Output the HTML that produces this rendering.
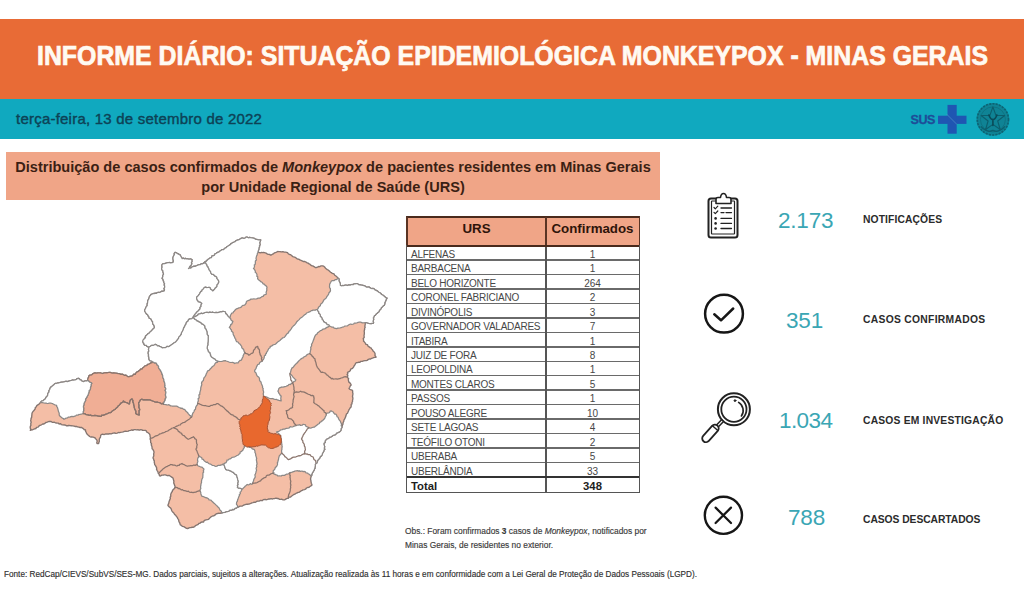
<!DOCTYPE html>
<html lang="pt-BR">
<head>
<meta charset="utf-8">
<title>Informe Diário Monkeypox - Minas Gerais</title>
<style>
*{margin:0;padding:0;box-sizing:border-box}
html,body{width:1024px;height:614px;overflow:hidden;background:#fff;font-family:"Liberation Sans",Arial,sans-serif}
.abs{position:absolute;white-space:nowrap}
#banner{position:absolute;left:0;top:19px;width:1024px;height:80px;background:#E86B36}
#banner h1{position:absolute;left:37px;top:24px;font-size:27px;line-height:27px;font-weight:bold;color:#fffaf2;letter-spacing:0;-webkit-text-stroke:0.7px #fffaf2;transform:scaleX(0.921);transform-origin:0 0}
#bar{position:absolute;left:0;top:99px;width:1024px;height:40px;background:#10A9BF}
#date{position:absolute;left:16px;top:12px;font-size:15px;line-height:16px;color:#0d4256;letter-spacing:0.22px;-webkit-text-stroke:0.4px #0d4256}
#titlebox{position:absolute;left:6px;top:152px;width:654px;height:48px;background:#F0A587;color:#3b1f14;font-weight:bold;font-size:14.55px;text-align:center}
#titlebox .l{position:absolute;left:0;width:100%;white-space:nowrap}
table{position:absolute;left:407px;top:217px;border-collapse:collapse;font-size:10px;color:#474747}

#tbl{position:absolute;left:0;top:0}
#tbl .th{position:absolute;top:217px;height:29px;background:#F0A587;color:#2e140a;font-weight:bold;font-size:13.3px;line-height:23px;text-align:center}
#tbl .hl{position:absolute;left:407px;width:232px;height:1.5px;background:#6a6a6a}
#tbl .td{position:absolute;height:14.46px;line-height:14.46px;padding-top:2.2px;font-size:10px;color:#474747;white-space:nowrap}
#tbl .n{left:411px;letter-spacing:-0.25px}
#tbl .v{left:546px;width:93px;text-align:center}
#tbl .b{font-weight:bold;color:#1e1e1e;font-size:11.3px;letter-spacing:0}
#tframe{position:absolute;left:406px;top:216px;width:234px;height:277px;border:1.5px solid #555;border-top:2px solid #4a2a1c}
#tdiv{position:absolute;left:545px;top:217px;width:1.6px;height:275px;background:#555}
#thb{position:absolute;left:407px;top:244.6px;width:232px;height:2px;background:#4a2a1c}
#ttb{position:absolute;left:407px;top:476px;width:232px;height:2px;background:#333}

.num{position:absolute;font-size:22.5px;line-height:22px;color:#3aa6b4;white-space:nowrap;letter-spacing:-0.2px}
.lab{position:absolute;font-size:10.3px;line-height:12px;font-weight:bold;color:#2b2b2b;white-space:nowrap}
#obs{position:absolute;left:405px;top:525px;font-size:8.4px;line-height:13.5px;color:#3a3a3a;white-space:nowrap;-webkit-text-stroke:0.15px #3a3a3a}
#foot{position:absolute;left:4px;top:570px;font-size:8.2px;line-height:10px;color:#303030;white-space:nowrap;letter-spacing:0;-webkit-text-stroke:0.15px #303030}
#icons{position:absolute;left:0;top:0}
</style>
</head>
<body>
<div id="banner"><h1 class="abs">INFORME DIÁRIO: SITUAÇÃO EPIDEMIOLÓGICA MONKEYPOX - MINAS GERAIS</h1></div>
<div id="bar"><div id="date" class="abs">terça-feira, 13 de setembro de 2022</div></div>

<svg id="logos" width="1024" height="140" viewBox="0 0 1024 140" style="position:absolute;left:0;top:0">
 <text x="910.6" y="124.3" font-family="Liberation Sans, Arial, sans-serif" font-weight="bold" font-size="12.6" fill="#1e4d98" letter-spacing="-0.5" stroke="#1e4d98" stroke-width="0.3">SUS</text>
 <rect x="938" y="115.7" width="28.5" height="8.2" fill="#1f56b2"/>
 <rect x="947.5" y="104.9" width="9.2" height="28.8" fill="#1f56b2"/>
 <path d="M946.5 114 L957 124.5" stroke="#4f8fc8" stroke-width="0.7"/>
 <g transform="translate(992.9 119.4)">
  <circle r="16.4" fill="#0f8395"/>
  <circle r="15.6" fill="none" stroke="#0d6272" stroke-width="1.6" stroke-dasharray="2 1.3"/>
  <circle r="12.5" fill="none" stroke="#0f7080" stroke-width="0.9"/>
  <path d="M0 -12.5 L3 -4 L11.8 -3.9 L4.8 1.6 L7.3 10.1 L0 5 L-7.3 10.1 L-4.8 1.6 L-11.8 -3.9 L-3 -4 Z" fill="none" stroke="#0c5e6d" stroke-width="1.1" stroke-linejoin="round"/>
  <path d="M-4 -4.5 q1.5 4.5 4 4.8 q2.5 -0.3 4 -4.8 M0 0 v6" fill="none" stroke="#0a4a58" stroke-width="1.6" stroke-linecap="round"/>
  <path d="M-12 7 q6 7 12 4 q6 3 12 -4" fill="none" stroke="#0c5e6d" stroke-width="1.3"/>
 </g>
</svg>
<div id="titlebox">
  <div class="l" style="top:7px">Distribuição de casos confirmados de <i>Monkeypox</i> de pacientes residentes em Minas Gerais</div>
  <div class="l" style="top:27px">por Unidade Regional de Saúde (URS)</div>
</div>
<!--MAP-->
<svg id="map" width="1024" height="614" viewBox="0 0 1024 614" style="position:absolute;left:0;top:0">
<g stroke="#8a746c" stroke-width="1.25" stroke-linejoin="round" stroke-linecap="round">
<polygon points="30.3,430.3 30.8,429.2 30.2,427.9 30.3,426.4 30.9,425.4 30.8,424.3 30.8,423.3 31.2,422.3 30.7,420.7 31.0,419.3 31.0,418.6 31.7,417.1 31.7,416.3 31.9,414.6 32.0,413.3 32.5,412.2 33.2,411.3 34.2,410.3 34.3,409.9 35.3,408.7 35.2,407.7 36.1,406.9 36.8,405.6 37.8,404.9 38.8,404.4 39.5,403.5 40.5,402.5 41.3,401.3 42.4,400.8 43.3,400.6 44.1,399.7 45.2,399.0 45.6,398.1 46.1,397.2 47.1,396.3 47.7,395.2 47.8,393.7 48.3,392.8 49.1,391.8 48.9,390.8 49.7,389.5 50.3,387.8 50.8,387.1 51.7,386.6 52.6,385.8 53.8,384.8 54.7,383.9 55.2,383.4 56.3,383.5 57.4,383.0 58.5,383.0 60.5,382.4 61.8,382.2 62.6,382.2 64.0,382.0 65.3,381.4 66.6,381.3 67.2,381.7 68.9,381.1 70.3,380.6 71.3,380.5 72.9,380.0 73.3,380.2 75.1,379.8 76.4,379.3 77.0,378.7 78.6,378.3 79.3,378.7 80.1,379.8 81.0,379.9 81.7,381.0 83.0,381.5 83.7,381.5 85.2,380.9 86.7,381.0 87.5,380.3 87.7,379.7 88.2,377.9 88.8,376.9 88.8,376.1 90.0,375.1 91.0,375.1 91.8,374.7 93.1,373.6 94.0,373.2 95.0,372.9 96.9,373.1 97.9,372.8 99.2,373.0 100.2,372.8 101.3,373.2 102.8,373.5 103.4,373.2 104.7,372.8 106.6,372.6 107.0,372.9 108.6,372.5 110.0,372.3 110.8,372.7 112.1,373.1 113.9,372.8 114.5,373.1 115.9,373.2 117.3,373.3 118.1,373.6 119.3,373.6 120.8,374.4 122.1,374.2 123.3,374.7 124.2,375.3 125.9,375.1 126.8,375.9 127.9,376.7 129.1,376.8 129.8,376.4 131.2,376.2 132.1,376.1 132.9,375.3 133.8,374.2 135.4,374.3 135.7,373.3 136.7,372.2 137.9,371.7 138.9,370.8 139.7,370.5 140.5,369.1 142.0,369.1 142.6,368.0 143.8,367.3 144.4,366.3 145.4,365.8 147.1,365.5 147.3,364.5 148.9,364.1 149.6,363.7 150.9,362.9 151.8,362.8 152.6,361.8 151.4,360.9 151.3,360.9 149.8,360.6 149.1,359.6 149.0,358.6 148.8,356.9 148.4,356.2 148.6,354.9 148.2,353.3 148.3,351.8 148.9,351.1 148.5,349.6 148.8,348.0 149.1,347.0 147.6,346.7 147.0,346.2 146.1,345.3 144.6,345.2 143.8,343.9 143.9,343.3 143.3,342.9 142.8,341.6 143.6,341.0 143.9,339.5 144.8,338.3 145.1,337.1 145.9,336.4 146.4,335.4 147.4,334.4 147.8,333.8 148.8,333.5 149.5,332.7 150.2,331.9 151.2,331.0 151.9,330.3 153.1,328.9 154.0,328.2 154.4,327.6 154.3,326.3 154.0,325.5 153.0,324.2 152.6,322.9 152.6,321.4 151.7,320.8 151.1,319.1 150.6,318.7 149.2,318.1 149.0,317.0 148.2,316.0 147.8,315.0 146.4,313.8 145.9,313.0 144.9,311.3 144.6,310.6 144.8,309.8 145.5,308.5 146.0,307.1 146.7,306.3 147.3,305.2 147.1,303.9 147.5,303.3 147.7,301.6 147.7,300.7 148.2,299.9 148.9,298.6 149.1,297.8 149.5,296.3 150.5,295.6 150.8,294.5 151.5,294.4 153.1,293.5 154.1,293.7 155.1,293.1 156.2,293.4 157.1,292.7 158.6,292.3 159.8,292.5 160.6,292.0 162.0,291.1 162.7,291.3 164.3,290.9 164.5,289.6 164.0,288.6 164.6,287.7 164.7,286.0 164.2,285.0 164.6,283.7 163.9,282.7 163.8,281.2 163.4,281.0 163.0,279.2 162.1,278.4 162.6,277.1 162.9,276.6 162.7,275.6 163.5,274.5 163.4,273.0 163.0,272.3 162.9,270.7 162.0,269.9 161.6,268.5 162.2,267.0 161.9,266.2 162.0,264.9 162.5,264.0 164.1,263.7 164.6,263.7 166.1,263.1 167.7,262.6 168.6,262.6 169.3,262.5 170.5,262.9 172.2,262.7 173.2,262.2 173.4,260.7 173.1,259.9 173.1,259.1 172.9,258.1 173.2,256.9 173.7,255.6 174.4,254.6 174.2,253.5 175.0,252.4 176.3,252.7 177.1,253.4 178.2,253.9 179.4,254.6 180.4,255.1 180.7,256.0 181.1,256.8 181.7,257.8 182.2,258.7 183.7,258.2 184.4,258.9 185.7,258.3 186.1,258.8 187.6,258.7 188.3,259.1 189.4,259.2 190.8,259.0 192.0,259.6 191.8,261.0 192.0,261.5 191.3,262.7 191.8,263.8 191.2,264.9 190.5,265.8 189.6,266.7 189.2,267.9 188.5,268.5 189.2,268.0 190.9,268.0 192.0,267.0 193.0,266.7 194.1,266.1 195.1,266.3 196.1,265.9 197.1,265.5 198.3,264.9 199.8,264.6 200.4,264.6 201.3,263.7 202.7,263.8 203.7,263.1 204.5,262.3 205.5,261.4 206.2,261.3 207.6,259.8 208.2,259.3 209.1,258.7 210.0,258.0 211.5,257.6 211.9,256.0 212.9,255.9 214.4,255.2 215.0,253.8 216.2,253.3 217.6,252.4 217.9,252.4 219.3,251.8 220.4,250.6 220.9,250.6 222.0,249.6 223.6,249.6 224.3,248.8 225.3,248.0 226.2,247.7 227.0,246.6 227.7,246.3 229.3,245.3 230.1,244.8 231.1,243.5 231.6,243.5 232.9,242.5 233.7,242.3 235.1,241.6 236.0,240.7 237.4,240.1 238.1,239.9 238.9,239.8 240.1,239.0 241.1,238.4 242.2,238.0 243.8,238.3 245.0,238.2 246.0,237.1 247.2,237.2 248.4,237.8 249.6,237.4 250.4,237.7 252.2,237.8 253.3,238.1 254.5,238.4 255.6,239.3 256.7,239.4 258.6,239.8 259.6,239.8 260.7,239.9 260.3,241.5 259.8,242.1 259.7,242.9 260.1,244.6 259.4,245.9 259.6,246.8 258.9,247.9 258.9,249.3 258.6,250.0 258.0,251.7 258.0,252.4 258.8,252.4 260.2,252.8 261.5,252.4 262.3,252.6 263.4,252.4 264.4,252.7 266.1,253.2 267.1,253.8 268.1,254.3 269.6,254.4 270.5,255.1 271.3,255.0 272.8,254.0 273.3,253.9 274.5,252.8 276.0,252.4 277.0,251.9 277.7,251.5 278.9,251.6 280.2,251.6 281.1,251.8 282.9,251.7 284.3,252.1 285.6,252.2 286.6,252.4 287.5,252.7 288.4,253.9 289.6,254.5 290.4,254.6 291.3,255.2 292.7,256.6 293.8,256.9 295.2,257.3 295.8,257.8 296.7,258.6 297.6,259.0 299.2,259.4 300.3,260.2 301.0,260.4 302.1,260.8 303.3,261.5 304.1,261.3 305.5,261.8 307.2,262.9 308.1,263.1 309.1,263.9 309.9,264.2 311.2,265.4 312.1,265.8 312.8,265.9 314.4,266.8 315.3,267.6 316.2,267.5 317.4,267.1 318.9,266.5 319.7,266.7 321.0,265.8 322.5,265.8 323.7,266.2 324.6,267.0 325.5,268.2 326.8,269.2 327.3,269.6 328.2,270.0 329.6,271.2 330.7,272.4 331.4,272.6 332.3,273.4 334.0,273.9 334.7,275.2 335.9,276.0 336.9,276.7 337.5,277.8 338.6,278.4 339.1,279.3 338.9,280.7 339.8,282.4 340.2,283.5 340.3,283.9 340.4,285.5 341.9,285.8 342.5,285.5 343.5,285.6 345.4,285.2 346.0,285.1 347.5,285.5 349.0,284.9 350.2,285.2 351.1,284.6 352.3,284.5 353.4,284.6 354.1,283.8 355.1,283.9 356.5,283.7 357.5,283.7 358.9,284.8 359.8,284.7 360.9,285.1 361.9,285.2 362.9,285.4 364.8,285.9 365.5,286.4 366.3,287.1 367.4,287.2 369.1,287.0 370.2,287.9 371.2,288.3 372.3,288.7 372.9,288.3 374.4,289.1 375.2,290.1 376.3,290.4 377.5,291.1 378.8,292.3 379.8,292.8 380.6,293.3 381.6,294.5 382.7,295.0 384.0,296.1 385.1,297.0 385.7,297.6 387.0,298.1 386.1,299.7 385.9,300.3 385.6,301.2 384.8,302.6 384.8,303.7 384.3,305.2 383.2,305.8 382.3,306.9 381.4,307.5 380.9,308.9 379.9,309.8 379.7,310.1 378.7,311.9 377.8,312.5 377.4,313.0 376.2,313.9 375.2,315.4 374.4,315.7 373.7,317.3 373.3,317.9 373.7,319.2 373.5,319.7 373.0,321.5 373.6,322.4 373.3,323.3 371.8,323.4 371.2,323.6 369.9,323.5 368.8,323.3 367.6,322.9 366.7,322.5 365.5,322.5 365.2,323.4 365.2,324.7 364.8,326.3 365.2,327.2 364.6,328.3 364.7,329.0 364.3,330.5 364.2,331.9 364.4,332.6 364.3,334.1 364.0,335.7 364.1,336.4 364.2,337.4 363.2,338.4 363.6,340.2 363.5,341.2 364.3,341.8 365.5,343.3 365.8,344.3 367.4,344.6 367.9,346.0 368.8,346.6 370.1,347.6 371.1,348.0 371.8,349.1 372.5,349.9 373.3,351.3 374.2,352.0 375.0,353.3 375.1,354.3 374.9,355.3 375.9,356.6 376.0,357.3 374.6,357.3 373.6,357.7 372.5,358.2 371.3,358.4 370.6,359.1 369.2,359.0 368.4,359.4 367.1,360.4 366.2,360.6 364.9,360.6 363.5,360.9 362.3,361.4 360.8,361.3 360.1,362.2 359.1,362.2 357.8,362.5 356.3,362.7 355.5,363.4 355.1,364.6 354.2,365.7 353.5,367.1 352.7,368.1 351.9,368.7 350.7,369.2 350.2,370.7 349.5,371.3 348.0,372.1 347.5,372.5 347.8,373.7 347.1,374.5 347.8,375.5 347.5,376.5 347.4,377.5 348.6,378.5 348.3,379.9 348.7,381.6 349.1,382.4 350.2,383.1 350.6,383.8 351.2,385.0 350.4,385.7 349.9,386.7 349.7,387.3 349.0,388.5 349.8,389.4 350.6,389.7 352.1,390.2 352.7,391.0 352.6,392.3 352.9,393.4 352.9,394.2 352.6,396.0 352.5,396.5 352.9,398.2 352.8,399.3 352.5,400.4 352.6,401.3 351.9,402.8 352.0,403.9 351.2,404.3 351.2,405.8 351.1,407.0 350.1,407.9 349.4,409.1 348.9,409.9 348.6,410.8 347.9,412.3 347.5,413.2 346.4,414.1 346.1,415.3 345.7,416.6 345.2,417.7 344.7,418.9 343.9,420.1 343.8,421.3 343.1,422.6 343.0,423.5 343.0,424.1 342.5,425.0 342.0,426.5 342.0,427.3 341.0,428.9 341.0,430.1 340.4,431.1 339.5,431.9 337.9,432.6 337.1,432.8 336.3,433.5 335.5,434.6 334.1,435.0 332.7,435.6 331.9,436.4 330.8,437.0 329.5,437.2 328.9,438.0 327.8,438.7 326.5,439.0 325.6,440.3 325.0,441.1 325.2,442.5 324.2,443.1 323.8,444.1 324.1,444.9 324.5,446.1 324.7,446.8 324.2,448.2 324.9,449.3 324.0,450.0 323.8,451.3 323.2,452.4 322.5,453.1 322.3,454.5 321.6,455.8 320.6,456.4 320.0,457.1 320.0,457.8 319.3,458.5 318.4,459.7 317.4,460.5 317.5,461.3 316.8,462.9 315.8,463.6 315.2,464.5 315.4,466.1 314.9,467.2 315.1,468.1 314.5,468.8 314.4,469.7 313.8,470.6 312.8,472.3 312.2,473.4 311.9,474.1 311.9,475.3 311.2,476.2 310.9,477.4 310.5,479.0 310.9,480.5 311.0,481.5 311.2,482.6 311.3,483.2 311.9,484.5 311.7,485.5 311.1,485.7 309.6,486.7 309.0,487.3 307.6,487.5 306.5,488.0 305.5,489.2 304.5,489.6 303.0,489.9 302.3,490.3 301.0,490.9 300.4,491.4 299.2,492.3 298.1,492.4 296.8,493.1 296.2,493.2 294.9,494.2 293.8,494.5 292.8,495.2 291.4,496.2 290.6,497.0 289.1,497.1 288.4,498.1 287.3,498.4 286.6,498.6 285.3,499.4 284.6,499.8 283.1,499.9 281.6,499.2 280.5,499.4 279.7,499.4 277.9,498.4 277.3,498.5 275.9,498.1 274.4,498.6 273.4,498.7 272.7,499.0 271.1,498.7 269.8,499.0 268.7,499.0 267.7,499.3 265.9,499.8 265.1,499.3 263.2,499.7 262.5,500.6 260.8,500.4 259.8,500.7 259.0,501.2 257.4,501.1 256.3,501.7 255.2,502.4 254.2,502.1 253.0,502.6 251.9,502.8 250.8,503.4 249.4,504.0 248.2,504.2 246.8,504.2 245.9,504.3 244.4,504.8 243.7,505.2 242.3,506.0 242.0,506.2 240.0,506.1 239.0,506.8 238.3,507.0 237.3,507.3 236.1,508.2 235.3,508.2 234.7,508.8 233.9,509.6 232.6,509.3 231.8,510.1 230.1,510.1 229.3,510.6 228.5,511.4 226.4,511.6 225.9,511.7 224.8,512.4 222.8,512.5 222.0,513.0 221.1,513.0 220.0,513.4 218.7,513.2 218.0,513.5 216.5,513.7 216.0,514.1 215.2,514.9 213.7,515.8 212.6,516.0 211.5,516.5 210.3,517.6 209.5,518.3 208.6,519.3 207.3,519.6 206.0,519.9 205.2,520.2 204.1,520.7 203.6,522.0 202.2,521.9 200.7,522.5 200.1,523.2 198.7,523.5 198.3,524.3 196.5,525.2 195.4,525.6 194.7,526.7 193.5,527.2 192.8,527.2 191.1,527.5 189.7,527.7 189.0,528.0 187.6,528.5 186.4,528.3 185.4,527.7 184.6,527.1 183.8,526.7 182.3,526.3 181.4,525.4 180.4,524.9 179.8,523.4 180.0,523.1 179.0,521.9 178.7,520.3 178.6,519.6 177.7,518.6 177.4,517.4 176.7,516.8 175.6,515.2 174.6,514.4 173.8,513.0 173.2,512.4 172.4,511.8 171.8,510.7 171.3,509.2 170.5,507.9 169.6,507.3 168.3,506.0 167.9,505.2 168.5,503.7 168.8,503.3 168.9,502.4 169.2,501.2 169.7,499.9 170.4,498.4 170.1,497.3 170.9,495.9 170.6,495.1 170.8,494.3 171.4,492.7 172.3,491.5 172.5,490.5 173.5,489.3 174.7,488.4 175.0,487.3 175.1,486.5 174.5,485.1 174.1,483.7 173.7,483.1 173.9,481.5 173.7,480.5 173.3,479.3 173.2,478.4 172.8,477.9 171.7,477.1 170.4,476.2 169.7,475.7 169.0,475.4 167.5,475.7 166.7,475.3 165.4,474.8 164.3,474.8 163.2,475.2 161.9,475.1 161.0,475.6 160.0,476.0 159.2,475.0 159.2,474.2 158.2,473.2 157.9,471.7 157.1,470.6 156.7,469.5 156.5,469.3 156.7,468.1 156.3,467.1 155.5,465.6 154.7,464.6 154.5,463.1 154.2,462.0 154.4,460.9 153.6,459.8 153.7,459.2 153.0,458.0 153.3,456.8 153.8,456.0 153.7,454.5 153.7,453.5 154.0,452.8 153.9,451.5 153.4,450.4 152.7,449.2 152.1,448.7 152.0,446.8 151.7,446.0 151.2,444.7 151.6,443.9 150.7,442.6 150.6,440.8 150.6,440.0 150.1,439.1 150.4,437.4 150.1,436.5 150.0,435.1 149.5,434.0 148.4,433.1 147.5,432.3 146.7,432.1 146.1,430.6 145.2,430.3 143.8,430.4 142.7,430.4 141.9,429.9 140.8,429.6 139.1,430.2 137.9,429.6 136.4,429.9 135.2,429.7 134.1,429.6 132.8,430.3 131.9,429.8 130.6,430.3 128.9,430.7 128.5,431.2 126.7,431.3 125.7,431.2 124.4,431.3 123.3,431.8 121.9,432.1 120.5,432.3 119.7,432.7 118.4,432.5 117.2,433.1 115.9,433.3 114.7,433.0 113.3,433.1 112.3,433.4 111.3,433.8 109.9,433.6 108.6,434.0 106.9,433.9 105.8,434.0 105.2,434.2 104.0,434.6 102.7,434.2 101.3,434.7 100.7,435.2 100.5,436.9 100.4,437.3 99.5,438.5 99.2,440.0 99.4,441.2 99.0,442.0 98.6,443.5 97.6,443.6 97.2,443.5 96.7,442.9 97.1,441.8 97.1,440.6 96.5,439.5 95.5,438.8 95.2,437.9 94.0,437.5 93.3,437.2 91.6,436.8 91.0,437.1 89.6,436.5 88.9,435.7 87.7,434.8 87.0,434.0 86.3,432.9 86.0,431.9 85.6,431.4 85.5,430.0 84.1,429.5 83.6,428.8 82.6,428.2 81.5,427.4 80.0,427.5 78.9,427.2 77.4,426.9 76.8,426.4 75.3,426.5 74.2,426.2 72.7,425.9 71.1,425.7 70.6,425.7 68.9,425.3 68.3,425.7 66.3,425.7 65.4,425.2 64.5,425.0 62.5,424.9 61.3,424.7 60.7,423.6 59.1,424.0 58.1,423.1 56.6,423.0 55.3,422.8 54.4,422.2 52.6,422.3 52.1,422.1 50.8,421.4 49.3,421.5 48.3,421.7 47.3,422.1 45.8,422.5 45.2,423.1 43.9,424.0 43.1,423.8 42.0,424.5 40.8,425.2 39.5,425.5 38.8,426.3 38.1,427.1 36.5,427.3 36.0,428.5 34.7,428.9 34.1,429.0 32.4,429.8 31.7,429.9" fill="#F4BEA6" stroke="#857570" stroke-width="1.35"/>
<polygon points="88.8,376.1 90.0,375.1 91.0,375.1 91.8,374.7 93.1,373.6 94.0,373.2 95.0,372.9 96.9,373.1 97.9,372.8 99.2,373.0 100.2,372.8 101.3,373.2 102.8,373.5 103.4,373.2 104.7,372.8 106.6,372.6 107.0,372.9 108.6,372.5 110.0,372.3 110.8,372.7 112.1,373.1 113.9,372.8 114.5,373.1 115.9,373.2 117.3,373.3 118.1,373.6 119.3,373.6 120.8,374.4 122.1,374.2 123.3,374.7 124.2,375.3 125.9,375.1 126.8,375.9 127.9,376.7 129.1,376.8 129.8,376.4 131.2,376.2 132.1,376.1 132.9,375.3 133.8,374.2 135.4,374.3 135.7,373.3 136.7,372.2 137.9,371.7 138.9,370.8 139.7,370.5 140.5,369.1 142.0,369.1 142.6,368.0 143.8,367.3 144.4,366.3 145.4,365.8 147.1,365.5 147.3,364.5 148.9,364.1 149.6,363.7 150.9,362.9 151.8,362.8 152.6,361.8 153.7,362.4 154.7,363.0 155.7,362.8 156.5,363.5 157.0,364.8 158.0,365.5 158.6,366.5 158.5,367.9 159.1,368.6 160.3,370.1 160.9,371.3 161.4,372.0 161.8,373.6 162.4,374.8 162.7,375.8 162.7,376.6 163.0,377.7 163.8,379.5 163.8,380.4 164.2,381.6 164.8,383.2 164.8,384.0 165.1,385.5 164.7,386.8 165.4,387.6 165.9,389.0 165.1,390.3 165.8,391.7 165.9,392.9 165.5,394.1 165.5,395.5 166.1,397.1 165.9,398.0 165.1,399.1 165.3,399.9 164.8,400.8 164.1,402.1 163.6,403.1 163.5,404.1 162.4,403.4 161.4,403.8 160.8,403.4 159.9,402.7 158.4,402.5 157.5,402.2 156.4,402.2 154.6,401.8 154.1,401.5 152.6,401.0 151.1,400.5 150.5,400.0 149.4,399.8 147.7,399.9 146.7,399.6 145.3,399.8 144.7,399.7 142.9,399.9 142.1,399.2 140.8,399.6 140.0,400.5 139.5,401.9 138.6,402.5 138.6,403.4 138.9,405.1 139.0,405.6 138.8,407.4 139.4,408.4 139.8,409.8 139.0,410.6 139.1,412.0 139.0,413.7 139.4,414.9 138.1,414.8 137.2,414.4 136.4,414.2 135.7,413.2 135.9,411.6 135.6,410.4 135.0,409.8 134.6,408.6 134.2,407.3 134.1,406.0 133.9,405.5 133.5,404.0 133.5,403.1 132.8,401.9 132.9,400.5 132.1,399.5 132.1,398.8 131.0,399.6 130.6,399.6 130.0,401.0 129.6,401.9 129.7,403.2 129.1,404.0 128.6,403.5 127.2,402.9 126.2,402.5 125.5,402.4 124.1,401.6 123.3,401.0 123.0,402.1 121.7,402.8 121.1,402.9 120.3,404.0 119.2,405.2 118.1,406.0 117.6,407.0 116.7,407.7 115.9,408.4 115.1,409.4 114.3,409.6 113.3,410.5 112.2,411.0 111.5,412.0 110.5,412.6 109.2,412.7 107.7,413.5 106.7,414.0 105.7,414.2 104.9,414.7 102.9,415.3 101.8,415.2 101.1,416.3 99.8,416.4 98.9,416.0 97.8,416.0 96.7,415.6 94.8,415.4 94.0,415.7 92.4,415.7 91.5,415.6 90.5,415.0 89.4,415.3 88.1,414.9 86.5,414.6 85.5,414.3 84.8,413.5 83.3,413.5 83.1,411.9 83.7,410.8 83.6,410.2 83.7,408.3 83.5,407.5 83.4,406.2 83.9,405.0 84.0,403.6 84.6,402.3 85.0,401.5 85.7,400.3 85.5,399.2 86.4,397.9 87.0,396.9 87.3,396.2 88.0,395.0 88.3,394.0 88.7,393.2 89.1,391.2 89.2,390.4 90.4,389.5 90.5,388.0 90.5,387.2 91.0,385.9 91.1,384.3 91.8,383.4 91.2,382.6 90.2,382.5 89.4,381.8 88.0,380.5 87.5,380.3 87.7,379.7 88.2,377.9 88.8,376.9" fill="#F0AE95"/>
<polygon points="40.5,402.5 41.3,401.3 42.4,400.8 43.3,400.6 44.1,399.7 45.2,399.0 45.6,398.1 46.1,397.2 47.1,396.3 47.7,395.2 47.8,393.7 48.3,392.8 49.1,391.8 48.9,390.8 49.7,389.5 50.3,387.8 50.8,387.1 51.7,386.6 52.6,385.8 53.8,384.8 54.7,383.9 55.2,383.4 56.3,383.5 57.4,383.0 58.5,383.0 60.5,382.4 61.8,382.2 62.6,382.2 64.0,382.0 65.3,381.4 66.6,381.3 67.2,381.7 68.9,381.1 70.3,380.6 71.3,380.5 72.9,380.0 73.3,380.2 75.1,379.8 76.4,379.3 77.0,378.7 78.6,378.3 79.3,378.7 80.1,379.8 81.0,379.9 81.7,381.0 83.0,381.5 83.7,381.5 85.2,380.9 86.7,381.0 87.5,380.3 88.0,380.5 89.4,381.8 90.2,382.5 91.2,382.6 91.8,383.4 91.1,384.3 91.0,385.9 90.5,387.2 90.5,388.0 90.4,389.5 89.2,390.4 89.1,391.2 88.7,393.2 88.3,394.0 88.0,395.0 87.3,396.2 87.0,396.9 86.4,397.9 85.5,399.2 85.7,400.3 85.0,401.5 84.6,402.3 84.0,403.6 83.9,405.0 83.4,406.2 83.5,407.5 83.7,408.3 83.6,410.2 83.7,410.8 83.1,411.9 83.3,413.5 82.2,413.9 81.1,414.1 79.8,414.5 78.9,414.4 77.9,415.2 76.6,415.1 75.7,415.7 74.9,416.2 73.3,416.6 71.9,416.4 70.8,416.6 69.9,417.2 68.4,417.1 67.4,417.9 66.0,418.1 64.8,418.9 64.0,419.3 63.3,418.5 62.2,418.1 61.7,417.6 60.7,416.7 59.6,415.7 59.2,414.9 59.2,413.2 58.9,412.4 58.4,411.3 58.1,409.8 57.8,409.1 57.4,407.2 56.7,406.6 56.6,405.4 55.5,405.0 54.7,404.8 52.7,403.7 52.2,403.5 50.8,403.2 49.9,403.0 48.2,403.4 47.1,403.5 46.0,403.0 44.9,403.2 44.2,403.0 42.3,402.7 41.4,402.7" fill="#ffffff" stroke="#8c8886"/>
<polygon points="143.7,339.3 144.8,338.5 145.5,337.3 145.5,335.9 146.4,335.4 147.4,334.4 147.8,333.8 148.8,333.5 149.5,332.7 150.2,331.9 151.2,331.0 151.9,330.3 153.1,328.9 154.0,328.2 154.4,327.6 154.3,326.3 154.0,325.5 153.0,324.2 152.6,322.9 152.6,321.4 151.7,320.8 151.1,319.1 150.6,318.7 149.2,318.1 149.0,317.0 148.2,316.0 147.8,315.0 146.4,313.8 145.9,313.0 144.9,311.3 144.6,310.6 144.8,309.8 145.5,308.5 146.0,307.1 146.7,306.3 147.3,305.2 147.1,303.9 147.5,303.3 147.7,301.6 147.7,300.7 148.2,299.9 148.9,298.6 149.1,297.8 149.5,296.3 150.5,295.6 150.8,294.5 151.5,294.4 153.1,293.5 154.1,293.7 155.1,293.1 156.2,293.4 157.1,292.7 158.6,292.3 159.8,292.5 160.6,292.0 162.0,291.1 162.7,291.3 164.3,290.9 164.5,289.6 164.0,288.6 164.6,287.7 164.7,286.0 164.2,285.0 164.6,283.7 163.9,282.7 163.8,281.2 163.4,281.0 163.0,279.2 162.1,278.4 162.6,277.1 162.9,276.6 162.7,275.6 163.5,274.5 163.4,273.0 163.0,272.3 162.9,270.7 162.0,269.9 161.6,268.5 162.2,267.0 161.9,266.2 162.0,264.9 162.5,264.0 164.1,263.7 164.6,263.7 166.1,263.1 167.7,262.6 168.6,262.6 169.3,262.5 170.5,262.9 172.2,262.7 173.2,262.2 173.4,260.7 173.1,259.9 173.1,259.1 172.9,258.1 173.2,256.9 173.7,255.6 174.4,254.6 174.2,253.5 175.0,252.4 176.3,252.7 177.1,253.4 178.2,253.9 179.4,254.6 180.4,255.1 180.7,256.0 181.1,256.8 181.7,257.8 182.2,258.7 183.7,258.2 184.4,258.9 185.7,258.3 186.1,258.8 187.6,258.7 188.3,259.1 189.4,259.2 190.8,259.0 192.0,259.6 191.8,261.0 192.0,261.5 191.3,262.7 191.8,263.8 191.2,264.9 190.5,265.8 189.6,266.7 189.2,267.9 188.5,268.5 189.2,268.0 190.9,268.0 192.0,267.0 193.0,266.7 194.1,266.1 195.1,266.3 196.1,265.9 197.1,265.5 198.3,264.9 199.8,264.6 200.4,264.6 201.3,263.7 202.7,263.8 203.7,263.1 204.9,262.4 205.5,262.5 205.9,263.3 206.9,264.8 207.1,265.9 207.9,266.5 208.2,267.6 208.8,268.5 209.2,269.9 210.2,271.1 210.6,271.6 210.9,273.0 211.7,274.2 213.1,274.3 214.2,275.2 214.7,275.9 216.2,276.6 216.9,277.4 216.9,278.4 217.9,279.6 218.5,280.5 218.9,282.0 218.4,282.9 218.1,283.9 217.0,284.9 217.1,286.2 216.2,287.3 215.1,288.3 214.8,288.9 213.5,290.4 212.6,290.9 211.7,289.8 210.5,289.1 210.1,287.8 209.1,287.3 207.6,287.5 206.9,287.6 205.5,287.2 204.6,287.3 203.6,288.4 203.4,288.9 201.9,290.3 201.8,291.1 201.0,291.4 200.1,292.7 199.6,293.8 198.8,294.8 197.8,296.1 196.8,297.0 196.5,298.1 196.7,298.6 197.2,300.0 198.0,300.9 198.3,301.7 199.2,301.8 200.4,302.2 201.1,302.8 201.9,303.5 201.2,304.5 201.0,305.4 201.1,306.4 200.0,307.5 200.1,308.8 199.0,310.0 198.4,310.7 197.2,311.7 196.5,312.4 195.7,313.8 195.0,314.2 194.1,315.6 193.4,316.3 193.0,317.8 191.9,318.6 190.9,318.8 189.8,318.9 188.5,319.6 188.1,321.0 187.0,321.8 186.3,322.7 186.0,324.0 185.3,324.9 184.8,326.0 184.3,327.2 183.6,328.2 183.5,328.6 183.1,330.0 182.7,330.7 182.0,332.0 181.4,333.0 181.4,334.1 180.4,335.4 179.9,336.1 178.6,337.4 178.6,338.3 177.7,339.4 176.8,340.7 175.7,341.9 174.8,342.5 174.2,342.8 172.6,343.9 172.1,344.3 170.5,345.4 169.7,346.1 168.1,346.8 167.2,346.3 166.0,347.3 165.1,347.6 163.4,347.7 162.5,347.9 161.1,347.0 160.4,346.6 159.6,346.5 158.7,345.6 157.4,345.8 156.4,344.6 155.3,344.3 154.1,345.0 153.1,345.4 151.8,345.3 150.9,345.8 150.5,346.3 149.1,347.0 147.6,346.7 147.0,346.2 146.1,345.3 144.6,345.2 143.8,343.9 143.9,343.3 143.3,342.9 142.8,341.6 142.9,340.1" fill="#ffffff" stroke="#8c8886"/>
<polygon points="203.7,263.1 204.5,262.3 205.5,261.4 206.2,261.3 207.6,259.8 208.2,259.3 209.1,258.7 210.0,258.0 211.5,257.6 211.9,256.0 212.9,255.9 214.4,255.2 215.0,253.8 216.2,253.3 217.6,252.4 217.9,252.4 219.3,251.8 220.4,250.6 220.9,250.6 222.0,249.6 223.6,249.6 224.3,248.8 225.3,248.0 226.2,247.7 227.0,246.6 227.7,246.3 229.3,245.3 230.1,244.8 231.1,243.5 231.6,243.5 232.9,242.5 233.7,242.3 235.1,241.6 236.0,240.7 237.4,240.1 238.1,239.9 238.9,239.8 240.1,239.0 241.1,238.4 242.2,238.0 243.8,238.3 245.0,238.2 246.0,237.1 247.2,237.2 248.4,237.8 249.6,237.4 250.4,237.7 252.2,237.8 253.3,238.1 254.5,238.4 255.6,239.3 256.7,239.4 258.6,239.8 259.6,239.8 260.7,239.9 260.3,241.5 259.8,242.1 259.7,242.9 260.1,244.6 259.4,245.9 259.6,246.8 258.9,247.9 258.9,249.3 258.6,250.0 258.0,251.7 258.0,252.4 257.2,254.0 257.3,254.9 256.7,255.7 256.3,257.2 256.0,258.4 256.4,260.0 255.4,261.0 255.3,262.2 255.4,262.9 255.1,264.7 254.3,264.9 254.5,266.3 254.1,267.9 253.5,268.5 254.4,269.4 254.7,269.9 255.4,271.2 255.2,272.3 256.2,273.0 256.9,274.3 257.0,274.9 256.9,276.4 257.8,276.8 257.6,278.6 258.0,279.3 258.8,280.0 259.8,280.6 260.6,281.7 261.5,281.9 262.5,282.8 263.2,283.9 264.7,284.4 265.0,285.3 266.4,286.1 267.0,287.3 266.7,288.8 266.9,290.0 266.5,291.1 266.1,292.5 266.3,293.6 266.0,294.5 264.8,294.7 263.5,295.4 263.2,296.5 261.9,296.6 261.1,297.3 259.8,298.1 258.2,298.1 257.1,298.6 256.3,298.8 255.4,299.0 253.8,298.9 252.6,299.0 251.7,299.0 250.9,299.1 249.6,300.2 247.9,300.7 247.2,300.8 246.2,302.2 246.2,303.1 245.6,304.0 244.6,305.2 243.1,305.3 242.0,306.0 241.2,307.2 240.0,307.6 238.6,307.9 237.9,308.4 236.5,308.8 235.4,309.7 234.4,311.0 233.5,311.7 233.1,312.8 231.8,313.0 231.1,314.2 230.4,315.5 230.4,316.3 230.0,317.3 229.3,317.8 229.0,317.1 227.6,315.8 227.3,315.1 226.6,314.1 225.7,313.6 225.4,312.0 224.3,311.5 222.9,311.3 222.1,311.8 220.8,311.6 219.5,312.2 218.9,312.3 217.2,312.7 216.2,312.4 214.9,312.7 213.2,312.4 212.5,312.1 211.5,312.5 209.9,312.2 208.6,312.7 207.3,312.4 206.3,312.4 205.1,312.5 204.0,313.1 202.4,313.7 201.5,313.2 200.5,313.6 199.5,314.0 198.3,314.2 197.6,315.3 196.5,315.9 195.0,316.6 194.1,316.8 193.0,317.8 193.4,316.3 194.1,315.6 195.0,314.2 195.7,313.8 196.5,312.4 197.2,311.7 198.4,310.7 199.0,310.0 200.1,308.8 200.0,307.5 201.1,306.4 201.0,305.4 201.2,304.5 201.9,303.5 201.1,302.8 200.4,302.2 199.2,301.8 198.3,301.7 198.0,300.9 197.2,300.0 196.7,298.6 196.5,298.1 196.8,297.0 197.8,296.1 198.8,294.8 199.6,293.8 200.1,292.7 201.0,291.4 201.8,291.1 201.9,290.3 203.4,288.9 203.6,288.4 204.6,287.3 205.5,287.2 206.9,287.6 207.6,287.5 209.1,287.3 210.1,287.8 210.5,289.1 211.7,289.8 212.6,290.9 213.5,290.4 214.8,288.9 215.1,288.3 216.2,287.3 217.1,286.2 217.0,284.9 218.1,283.9 218.4,282.9 218.9,282.0 218.5,280.5 217.9,279.6 216.9,278.4 216.9,277.4 216.2,276.6 214.7,275.9 214.2,275.2 213.1,274.3 211.7,274.2 210.9,273.0 210.6,271.6 210.2,271.1 209.2,269.9 208.8,268.5 208.2,267.6 207.9,266.5 207.1,265.9 206.9,264.8 205.9,263.3 205.5,262.5 204.9,262.4" fill="#ffffff" stroke="#8c8886"/>
<polygon points="193.0,317.8 194.1,316.8 195.0,316.6 196.5,315.9 197.6,315.3 198.3,314.2 199.5,314.0 200.5,313.6 201.5,313.2 202.4,313.7 204.0,313.1 205.1,312.5 206.3,312.4 207.3,312.4 208.6,312.7 209.9,312.2 211.5,312.5 212.5,312.1 213.2,312.4 214.9,312.7 216.2,312.4 217.2,312.7 218.9,312.3 219.5,312.2 220.8,311.6 222.1,311.8 222.9,311.3 224.3,311.5 225.4,312.0 225.7,313.6 226.6,314.1 227.3,315.1 227.6,315.8 229.0,317.1 229.3,317.8 230.6,318.4 230.9,319.8 232.0,320.9 232.9,321.4 232.3,322.7 231.9,323.9 230.7,324.6 230.7,325.4 229.7,326.9 229.3,327.6 230.3,328.3 230.6,329.1 231.5,330.0 231.4,331.0 232.5,332.0 233.1,332.7 233.1,334.0 233.7,335.4 234.1,336.1 234.5,337.0 235.0,338.3 235.6,339.0 236.0,340.5 236.6,341.6 238.0,342.0 238.6,342.9 239.0,343.5 240.1,344.2 240.9,345.4 241.7,346.4 241.8,347.7 242.5,348.7 243.5,349.1 244.0,350.7 243.9,351.0 244.8,352.3 244.1,353.7 243.6,354.8 243.0,356.1 243.2,356.5 242.2,358.1 241.9,359.1 241.2,360.3 240.2,360.3 239.1,361.4 238.5,362.0 238.0,363.0 236.5,362.8 235.6,363.0 234.7,363.5 233.8,362.8 232.7,362.4 230.9,362.5 230.2,362.4 229.0,362.0 227.7,361.5 226.2,361.0 225.3,360.6 223.4,360.8 222.8,361.1 221.7,361.3 220.1,361.5 218.7,361.3 217.8,361.2 216.4,360.9 215.5,360.0 215.0,359.2 213.3,358.4 212.5,357.7 211.4,356.9 210.5,355.7 210.5,354.4 210.0,353.9 209.7,352.3 208.4,352.0 208.2,351.0 207.7,349.6 207.2,348.5 207.2,347.5 207.4,346.3 207.9,344.6 207.8,343.3 207.9,342.8 208.1,341.5 208.2,339.6 208.2,338.6 208.2,337.5 208.3,336.0 207.9,335.5 207.1,334.1 207.0,332.5 207.0,331.9 206.4,330.3 205.8,329.0 204.9,328.1 204.8,327.1 204.6,325.7 203.7,325.0 203.0,324.4 201.5,323.9 200.7,322.6 199.4,322.1 198.3,321.4 196.9,320.9 196.6,320.3 195.0,319.5 194.1,318.5" fill="#ffffff" stroke="#8c8886"/>
<polygon points="149.1,347.0 150.5,346.3 150.9,345.8 151.8,345.3 153.1,345.4 154.1,345.0 155.3,344.3 156.4,344.6 157.4,345.8 158.7,345.6 159.6,346.5 160.4,346.6 161.1,347.0 162.5,347.9 163.4,347.7 165.1,347.6 166.0,347.3 167.2,346.3 168.1,346.8 169.7,346.1 170.5,345.4 172.1,344.3 172.6,343.9 174.2,342.8 174.8,342.5 175.7,341.9 176.8,340.7 177.7,339.4 178.6,338.3 178.6,337.4 179.9,336.1 180.4,335.4 181.4,334.1 181.4,333.0 182.0,332.0 182.7,330.7 183.1,330.0 183.5,328.6 183.6,328.2 184.3,327.2 184.8,326.0 185.3,324.9 186.0,324.0 186.3,322.7 187.0,321.8 188.1,321.0 188.5,319.6 189.8,318.9 190.9,318.8 191.9,318.6 193.0,317.8 194.1,318.5 195.0,319.5 196.6,320.3 196.9,320.9 198.3,321.4 199.4,322.1 200.7,322.6 201.5,323.9 203.0,324.4 203.7,325.0 204.6,325.7 204.8,327.1 204.9,328.1 205.8,329.0 206.4,330.3 207.0,331.9 207.0,332.5 207.1,334.1 207.9,335.5 208.3,336.0 208.2,337.5 208.2,338.6 208.2,339.6 208.1,341.5 207.9,342.8 207.8,343.3 207.9,344.6 207.4,346.3 207.2,347.5 207.2,348.5 207.7,349.6 208.2,351.0 208.4,352.0 209.7,352.3 210.0,353.9 210.5,354.4 210.5,355.7 211.4,356.9 212.5,357.7 213.3,358.4 215.0,359.2 215.5,360.0 216.4,360.9 217.8,361.2 217.3,362.5 215.9,362.6 215.0,363.7 214.6,364.6 213.7,365.8 212.9,366.2 212.0,367.0 210.7,368.6 210.2,369.0 209.1,370.4 207.7,370.8 207.2,371.8 207.0,372.6 206.4,373.5 206.0,374.9 205.3,376.3 204.2,377.5 204.0,377.9 203.7,378.7 203.4,380.5 202.1,381.5 201.9,382.3 201.5,383.3 201.8,384.7 201.4,385.8 200.9,387.3 200.7,388.2 200.8,389.2 200.4,390.6 200.1,391.6 199.8,392.9 199.8,394.5 198.9,394.9 199.1,396.6 199.2,397.7 198.1,398.8 198.3,399.6 198.3,401.1 197.8,402.0 197.6,403.5 197.3,405.0 196.5,405.7 195.9,406.9 195.6,407.8 195.5,409.2 194.5,410.0 194.0,411.5 193.7,412.0 192.8,413.2 192.2,415.0 192.2,415.9 191.5,417.1 190.8,415.9 189.7,415.4 189.1,414.6 188.0,413.4 187.5,412.4 186.9,411.9 185.7,411.1 185.6,410.4 184.3,409.3 183.5,409.3 181.9,408.1 180.6,408.3 180.3,407.8 179.1,407.5 177.8,406.7 176.5,406.2 176.0,406.0 174.9,406.0 173.5,406.0 172.1,406.0 170.7,405.9 170.0,405.4 168.9,404.7 167.6,405.0 166.7,404.8 166.0,404.7 164.2,404.5 163.5,404.1 163.6,403.1 164.1,402.1 164.8,400.8 165.3,399.9 165.1,399.1 165.9,398.0 166.1,397.1 165.5,395.5 165.5,394.1 165.9,392.9 165.8,391.7 165.1,390.3 165.9,389.0 165.4,387.6 164.7,386.8 165.1,385.5 164.8,384.0 164.8,383.2 164.2,381.6 163.8,380.4 163.8,379.5 163.0,377.7 162.7,376.6 162.7,375.8 162.4,374.8 161.8,373.6 161.4,372.0 160.9,371.3 160.3,370.1 159.1,368.6 158.5,367.9 158.6,366.5 158.0,365.5 157.0,364.8 156.5,363.5 155.7,362.8 154.7,363.0 153.7,362.4 152.6,361.8 151.4,360.9 151.3,360.9 149.8,360.6 149.1,359.6 149.0,358.6 148.8,356.9 148.4,356.2 148.6,354.9 148.2,353.3 148.3,351.8 148.9,351.1 148.5,349.6 148.8,348.0" fill="#ffffff" stroke="#8c8886"/>
<polygon points="338.6,278.4 339.1,279.3 338.9,280.7 339.8,282.4 340.2,283.5 340.3,283.9 340.4,285.5 341.9,285.8 342.5,285.5 343.5,285.6 345.4,285.2 346.0,285.1 347.5,285.5 349.0,284.9 350.2,285.2 351.1,284.6 352.3,284.5 353.4,284.6 354.1,283.8 355.1,283.9 356.5,283.7 357.5,283.7 358.9,284.8 359.8,284.7 360.9,285.1 361.9,285.2 362.9,285.4 364.8,285.9 365.5,286.4 366.3,287.1 367.4,287.2 369.1,287.0 370.2,287.9 371.2,288.3 372.3,288.7 372.9,288.3 374.4,289.1 375.2,290.1 376.3,290.4 377.5,291.1 378.8,292.3 379.8,292.8 380.6,293.3 381.6,294.5 382.7,295.0 384.0,296.1 385.1,297.0 385.7,297.6 387.0,298.1 386.1,299.7 385.9,300.3 385.6,301.2 384.8,302.6 384.8,303.7 384.3,305.2 383.2,305.8 382.3,306.9 381.4,307.5 380.9,308.9 379.9,309.8 379.7,310.1 378.7,311.9 377.8,312.5 377.4,313.0 376.2,313.9 375.2,315.4 374.4,315.7 373.7,317.3 373.3,317.9 373.7,319.2 373.5,319.7 373.0,321.5 373.6,322.4 373.3,323.3 371.8,323.4 371.2,323.6 369.9,323.5 368.8,323.3 367.6,322.9 366.7,322.5 365.5,322.5 364.7,322.6 362.7,322.8 361.7,322.7 360.8,322.1 359.6,322.0 358.1,322.4 356.7,323.0 355.5,323.1 354.1,323.2 353.7,324.0 351.7,324.3 350.9,324.2 350.0,324.2 348.9,324.8 347.5,325.8 345.7,326.0 344.6,326.1 343.7,326.9 342.1,327.2 341.1,327.7 339.9,328.0 338.6,328.2 337.7,328.1 336.6,328.7 335.6,328.4 334.1,328.1 333.4,327.0 331.6,327.0 330.7,326.5 329.4,326.0 328.7,324.8 327.2,324.6 326.3,323.3 325.5,322.5 325.0,322.5 323.6,321.6 323.3,320.2 322.2,319.7 322.0,318.2 321.2,317.1 320.3,316.5 320.3,315.0 319.7,314.0 318.5,313.0 318.7,312.0 317.7,310.9 317.2,309.5 318.1,308.6 318.5,307.2 319.7,306.2 320.4,305.5 320.6,304.2 321.5,303.5 322.4,302.8 323.2,301.4 323.5,300.5 324.2,299.6 325.4,298.8 326.1,298.1 326.4,297.4 327.2,296.1 328.0,295.2 328.8,293.7 328.8,293.0 330.0,291.8 330.5,290.9 330.4,290.0 330.4,288.6 329.6,287.8 329.5,286.4 329.6,285.5 329.6,284.4 330.4,282.8 330.6,282.5 331.4,281.0 332.3,280.7 334.2,280.6 335.4,279.6 336.3,279.6 337.7,278.8" fill="#ffffff" stroke="#8c8886"/>
<polygon points="317.2,309.5 317.7,310.9 318.7,312.0 318.5,313.0 319.7,314.0 320.3,315.0 320.3,316.5 321.2,317.1 322.0,318.2 322.2,319.7 323.3,320.2 323.6,321.6 325.0,322.5 325.5,322.5 326.3,323.3 327.2,324.6 328.7,324.8 329.4,326.0 328.7,326.6 327.0,327.4 325.7,328.1 325.3,328.7 324.3,328.9 322.4,329.3 321.7,330.3 320.5,330.5 319.4,331.6 318.7,332.1 317.6,332.7 317.2,333.9 315.8,334.8 315.1,335.8 314.7,336.8 314.2,338.0 313.9,339.1 313.4,340.1 312.9,341.5 312.4,342.8 311.9,343.6 311.5,344.8 311.7,345.7 310.7,347.4 310.9,349.0 310.6,350.2 310.4,350.8 310.2,352.2 309.7,353.7 308.3,354.0 307.3,354.6 306.4,355.3 305.8,356.2 304.8,356.5 303.4,357.3 303.1,358.0 302.1,358.2 300.7,359.1 299.9,359.9 298.9,360.8 297.8,362.0 297.6,362.6 296.5,363.3 295.4,364.5 294.8,365.2 293.7,366.5 293.1,367.4 291.8,368.1 291.3,369.6 291.1,369.9 290.8,371.1 290.6,372.2 290.0,373.5 290.5,374.1 291.2,374.8 292.0,375.6 292.6,376.5 293.5,377.7 293.8,377.9 295.2,379.4 295.8,379.8 295.3,381.0 294.1,381.3 293.8,381.8 292.6,383.0 291.2,383.6 290.4,384.5 289.0,384.3 288.0,385.6 287.6,385.6 286.1,386.3 284.6,386.7 284.2,386.8 282.6,387.2 281.5,387.0 281.0,387.4 279.5,387.9 278.7,388.8 278.5,389.9 277.9,391.2 278.5,392.1 278.8,393.2 279.8,394.4 280.3,395.6 281.2,396.1 280.9,397.5 280.8,398.8 280.9,399.5 281.2,400.9 279.9,400.6 279.0,400.4 277.3,399.9 276.3,399.3 275.3,399.5 274.0,399.1 272.6,398.5 272.1,398.7 271.1,398.6 269.8,398.5 268.6,398.0 268.2,397.8 267.2,397.3 265.9,396.7 264.8,397.1 263.6,396.3 263.5,395.4 263.2,393.7 263.6,392.5 263.5,391.2 263.0,390.0 263.2,388.4 262.5,387.8 262.6,386.6 262.0,385.0 261.4,383.7 261.2,382.8 260.7,381.5 259.9,381.0 259.5,380.1 259.5,378.7 259.1,377.6 257.8,376.6 257.2,375.8 256.5,374.7 256.4,374.1 255.9,372.7 254.7,371.8 254.6,370.8 255.3,369.4 255.7,369.0 256.1,368.2 256.5,366.9 256.9,366.1 257.6,364.7 259.3,364.0 259.6,362.7 260.4,362.0 261.7,361.4 262.3,361.0 263.1,359.6 263.4,359.4 263.9,358.5 264.3,357.1 264.4,355.7 265.6,355.1 265.5,354.1 266.3,353.5 266.7,352.1 267.3,351.3 267.8,350.6 268.4,349.3 268.8,348.5 270.1,347.8 270.2,346.4 271.0,346.3 271.8,345.9 273.2,344.8 274.4,344.5 275.1,344.4 275.9,343.7 276.9,342.7 277.6,342.1 279.2,341.0 280.0,340.5 280.5,339.8 281.8,338.7 282.7,337.8 284.1,337.5 284.9,336.6 285.8,335.5 286.3,334.7 287.4,333.3 288.5,332.9 288.8,331.5 289.8,330.8 290.4,329.9 291.5,328.7 291.8,327.6 292.7,326.7 293.5,325.8 294.6,324.9 295.5,323.8 295.9,323.4 296.6,322.0 297.6,321.0 298.3,320.4 299.2,319.6 300.0,318.5 300.7,317.9 302.2,316.9 302.7,316.5 303.4,315.9 304.6,314.7 305.8,314.1 306.6,313.0 307.9,312.5 309.3,311.9 309.9,311.8 311.3,310.6 312.3,310.6 313.0,310.0 313.6,310.2 315.5,310.2 315.8,309.7" fill="#ffffff" stroke="#8c8886"/>
<polygon points="198.6,455.5 199.6,456.7 200.6,456.9 201.8,457.7 202.0,459.1 203.4,459.3 203.9,460.6 205.1,461.4 206.2,462.4 207.5,462.1 208.1,463.0 209.2,463.8 210.4,464.0 211.1,464.5 212.2,465.3 214.0,465.5 214.6,466.0 215.6,466.3 217.1,466.1 217.6,465.5 218.5,465.3 220.0,465.4 221.3,464.9 222.1,464.8 222.7,464.0 224.0,464.0 224.0,465.0 224.6,466.3 224.8,467.3 225.3,468.2 225.7,469.4 226.9,469.9 227.5,470.0 228.6,470.1 229.7,470.7 231.1,471.2 232.0,471.8 233.3,472.3 234.3,473.5 235.2,474.3 236.5,474.8 236.9,476.4 237.0,477.0 237.5,478.1 237.6,479.4 238.2,480.7 238.3,482.0 237.8,483.1 238.2,484.5 237.4,485.3 237.8,486.2 237.4,487.3 238.4,488.1 240.0,488.2 240.5,488.3 241.9,489.1 241.5,490.5 240.9,491.6 240.1,492.3 240.4,493.5 239.2,494.8 239.5,495.4 238.8,496.7 238.3,498.1 237.9,499.4 237.6,499.9 237.3,501.6 236.7,502.0 236.5,503.4 236.5,504.4 237.5,505.6 237.6,506.5 238.3,507.0 237.3,507.3 236.1,508.2 235.3,508.2 234.7,508.8 233.9,509.6 232.6,509.3 231.8,510.1 230.1,510.1 229.3,510.6 228.5,511.4 226.4,511.6 225.9,511.7 224.8,512.4 222.8,512.5 222.0,513.0 221.5,511.6 221.0,510.8 220.1,510.3 219.4,508.7 218.9,507.8 218.0,507.0 216.8,505.7 216.4,505.4 215.6,504.6 214.4,503.4 213.2,502.5 212.6,501.7 211.7,501.0 210.7,500.0 209.1,499.9 208.7,499.1 207.3,498.1 206.0,497.6 205.4,497.6 204.4,497.0 202.6,496.3 201.9,496.3 201.5,495.4 200.9,493.9 200.8,492.7 200.6,492.0 200.1,490.9 199.9,490.0 200.8,488.7 200.6,487.6 200.6,486.3 200.9,485.3 201.0,483.7 201.5,482.8 201.5,481.1 201.7,480.2 201.9,479.3 202.8,477.4 202.8,476.6 202.9,475.6 202.9,474.6 203.0,472.8 203.7,472.1 203.3,470.8 203.9,469.6 203.7,468.5 202.8,468.0 202.0,467.1 200.3,466.8 199.4,466.4 198.2,466.0 197.5,465.0 197.1,463.8 197.4,462.7 197.9,461.4 197.5,460.0 197.7,458.6 198.0,457.8 198.6,457.0" fill="#ffffff" stroke="#8c8886"/>
<polygon points="224.0,464.0 224.4,463.3 226.0,462.7 226.8,461.3 226.9,460.2 228.4,459.8 229.0,459.0 230.1,458.9 231.4,458.0 232.0,457.3 233.4,457.1 234.8,456.8 236.2,456.0 237.0,455.5 238.3,455.0 239.1,454.1 240.0,453.4 240.2,451.9 241.1,451.7 242.2,450.7 243.0,450.0 243.2,449.1 244.4,447.4 244.1,446.7 245.3,445.8 245.5,444.5 246.4,445.3 247.5,446.4 248.0,446.8 249.2,446.6 249.6,447.4 250.8,447.5 251.9,448.2 252.2,448.8 253.2,449.2 254.4,449.7 255.0,451.2 254.9,452.2 255.4,453.2 255.7,454.3 255.7,455.4 256.2,456.9 256.7,458.5 256.4,459.1 256.5,460.8 256.7,461.3 256.8,462.7 257.1,464.0 256.5,465.3 256.9,466.8 256.5,467.2 256.1,468.6 256.6,470.1 256.2,471.2 255.9,472.4 255.4,474.0 254.9,474.9 255.2,476.4 255.1,477.4 254.4,478.4 253.7,479.7 253.6,480.6 253.4,481.2 252.8,482.2 252.6,483.7 251.5,484.3 250.2,483.6 249.6,484.5 248.4,484.8 247.2,484.5 246.1,485.4 245.4,485.9 244.5,487.0 243.5,487.9 242.9,488.7 241.9,489.1 240.5,488.3 240.0,488.2 238.4,488.1 237.4,487.3 237.8,486.2 237.4,485.3 238.2,484.5 237.8,483.1 238.3,482.0 238.2,480.7 237.6,479.4 237.5,478.1 237.0,477.0 236.9,476.4 236.5,474.8 235.2,474.3 234.3,473.5 233.3,472.3 232.0,471.8 231.1,471.2 229.7,470.7 228.6,470.1 227.5,470.0 226.9,469.9 225.7,469.4 225.3,468.2 224.8,467.3 224.6,466.3 224.0,465.0" fill="#ffffff" stroke="#8c8886"/>
<polygon points="276.5,432.0 277.0,432.5 278.5,433.2 279.0,434.0 280.1,435.1 280.7,435.6 280.7,437.1 280.8,437.5 281.2,438.7 281.3,440.0 281.4,441.3 281.6,441.6 281.6,443.3 281.9,444.1 281.9,445.3 282.2,446.7 281.9,448.0 281.9,449.5 281.6,450.4 281.6,452.3 281.9,453.2 280.6,454.3 279.9,455.2 279.3,455.8 279.1,456.6 278.6,458.2 278.6,459.1 278.4,459.8 278.0,461.0 277.8,462.1 277.3,462.9 277.6,464.1 277.3,464.9 276.7,466.2 275.7,467.2 275.0,467.9 275.1,468.7 274.1,470.1 273.2,470.7 273.3,472.3 272.8,472.8 273.5,473.3 274.1,474.1 275.2,474.4 276.2,474.9 277.2,475.1 278.0,476.0 279.5,475.9 279.8,475.9 281.3,476.0 281.9,475.4 283.2,475.4 284.5,475.4 285.9,474.5 286.7,474.0 287.7,474.0 288.5,473.8 289.8,472.8 291.1,472.4 292.4,472.1 292.8,471.8 294.4,471.4 294.9,471.0 296.3,470.8 297.7,470.7 298.8,471.3 299.2,470.7 300.5,471.4 302.0,471.0 303.2,471.7 304.1,471.4 305.4,471.8 305.9,472.8 307.5,473.0 308.2,473.7 309.2,474.3 310.6,475.4 311.5,476.0 311.3,475.5 311.9,474.1 312.2,473.4 312.8,472.3 313.8,470.6 314.4,469.7 314.5,468.8 315.1,468.1 314.9,467.2 315.4,466.1 315.2,464.5 315.8,463.6 316.8,462.9 317.5,461.3 317.4,460.5 318.4,459.7 319.3,458.5 320.0,457.8 320.0,457.1 320.6,456.4 321.6,455.8 322.3,454.5 322.5,453.1 323.2,452.4 323.8,451.3 324.0,450.0 324.9,449.3 324.2,448.2 324.7,446.8 324.5,446.1 324.1,444.9 323.8,444.1 324.2,443.1 325.2,442.5 325.0,441.1 325.6,440.3 326.5,439.0 327.8,438.7 328.9,438.0 329.5,437.2 330.8,437.0 331.9,436.4 332.7,435.6 334.1,435.0 335.5,434.6 336.3,433.5 337.1,432.8 337.9,432.6 339.5,431.9 340.4,431.1 341.0,430.1 341.0,428.9 342.0,427.3 342.0,426.5 341.2,425.7 341.6,423.9 341.2,423.4 340.6,421.9 340.3,421.1 339.2,419.9 338.6,418.7 338.1,417.3 337.1,416.8 336.7,415.4 336.0,414.2 334.7,414.1 333.7,412.9 333.3,412.0 332.3,411.5 331.4,410.9 330.1,411.2 329.6,412.5 328.7,412.9 326.9,413.1 326.2,414.1 326.3,415.2 325.9,415.8 325.2,417.0 324.9,418.0 324.5,418.7 323.6,419.5 322.4,420.8 321.8,420.9 321.0,421.9 319.6,422.4 319.5,423.5 317.9,424.2 317.4,424.7 316.1,425.8 315.6,426.0 314.5,427.1 313.9,427.1 312.2,427.5 311.4,427.9 310.2,428.1 309.3,427.8 307.8,427.1 306.9,426.7 305.8,426.2 305.5,424.9 304.1,424.5 303.2,424.3 302.2,425.2 300.3,425.3 299.9,424.7 298.2,425.1 297.0,425.2 296.3,425.5 295.0,425.8 294.2,426.1 292.9,426.8 291.6,427.0 290.2,426.7 289.3,427.8 288.3,428.1 286.3,428.4 285.7,428.6 284.6,429.1 283.2,429.1 282.3,429.6 280.6,429.8 280.1,430.4 278.9,431.3 277.5,431.5" fill="#ffffff" stroke="#8c8886"/>
<polyline points="83.3,413.5 84.8,413.5 85.5,414.3 86.5,414.6 88.1,414.9 89.4,415.3 90.5,415.0 91.5,415.6 92.4,415.7 94.0,415.7 94.8,415.4 96.7,415.6 97.8,416.0 98.9,416.0 99.8,416.4 101.1,416.3 101.8,415.2 102.9,415.3 104.9,414.7 105.7,414.2 106.7,414.0 107.7,413.5 109.2,412.7 110.5,412.6 111.5,412.0 112.2,411.0 113.3,410.5 114.3,409.6 115.1,409.4 115.9,408.4 116.7,407.7 117.6,407.0 118.1,406.0 119.2,405.2 120.3,404.0 121.1,402.9 121.7,402.8 123.0,402.1 123.3,401.0 124.1,401.6 125.5,402.4 126.2,402.5 127.2,402.9 128.6,403.5 129.1,404.0 129.7,403.2 129.6,401.9 130.0,401.0 130.6,399.6 131.0,399.6 132.1,398.8 132.1,399.5 132.9,400.5 132.8,401.9 133.5,403.1 133.5,404.0 133.9,405.5 134.1,406.0 134.2,407.3 134.6,408.6 135.0,409.8 135.6,410.4 135.9,411.6 135.7,413.2 136.4,414.2 137.2,414.4 138.1,414.8 139.4,414.9 139.0,413.7 139.1,412.0 139.0,410.6 139.8,409.8 139.4,408.4 138.8,407.4 139.0,405.6 138.9,405.1 138.6,403.4 138.6,402.5 139.5,401.9 140.0,400.5 140.8,399.6 142.1,399.2 142.9,399.9 144.7,399.7 145.3,399.8 146.7,399.6 147.7,399.9 149.4,399.8 150.5,400.0 151.1,400.5 152.6,401.0 154.1,401.5 154.6,401.8 156.4,402.2 157.5,402.2 158.4,402.5 159.9,402.7 160.8,403.4 161.4,403.8 162.4,403.4 163.5,404.1" fill="none"/>
<polyline points="244.8,352.3 245.5,353.3 246.6,353.6 248.0,354.1 248.7,355.2 250.0,354.6 250.8,353.9 251.3,353.3 252.6,353.2 253.3,352.1 253.5,350.4 253.9,350.0 255.0,348.9 255.5,347.4 256.6,346.9 257.5,346.4 258.0,347.2 258.1,348.7 258.8,348.9 259.5,350.1 259.5,351.3 259.5,352.4 260.0,353.4 260.2,354.8 260.9,355.5 261.4,357.1 261.9,357.7 261.4,358.6 261.9,360.4 262.3,361.0" fill="none"/>
<polyline points="197.6,403.5 198.5,403.7 200.0,404.2 200.7,404.5 202.0,405.1 203.0,405.4 204.4,405.6 205.3,405.5 206.3,405.9 207.5,406.2 208.6,406.3 209.7,406.3 211.2,405.3 212.0,405.5 213.5,404.7 214.4,404.6 215.6,404.6 217.0,403.5 217.8,403.5 218.8,404.2 219.7,404.9 220.8,405.9 222.4,406.4 223.5,407.5 224.1,407.8 224.7,408.6 225.8,409.7 226.9,410.9 228.1,411.6 228.5,412.2 229.4,412.9 230.5,414.1 231.7,414.8 232.9,414.9 233.4,415.8 235.2,416.6 236.0,417.0 236.5,417.6 237.4,418.1 238.3,419.3 239.5,419.5" fill="none"/>
<polyline points="191.5,417.1 190.4,417.7 189.9,418.6 189.1,419.3 188.2,419.8 187.5,420.3 186.0,421.2 185.4,421.9 184.3,422.4 183.0,422.6 182.5,423.0 181.0,423.8 180.5,424.8 179.1,425.0 178.4,425.5 176.8,426.1 175.6,426.8 174.7,427.3 173.9,427.6" fill="none"/>
<polyline points="173.9,427.6 172.6,428.0 171.4,428.3 171.1,429.0 170.0,429.5 168.7,430.2 167.8,431.0 166.3,431.5 165.5,431.6 164.9,432.2 163.5,432.8 162.2,432.9 161.7,433.5 160.1,433.8 159.5,434.1 158.7,434.7 157.8,435.3 156.1,435.8 155.1,436.2 154.3,436.7 153.6,437.2 152.5,437.9 151.3,438.2 150.6,438.5" fill="none"/>
<polyline points="173.9,427.6 174.9,428.4 175.4,428.5 177.1,429.4 177.8,430.2 178.4,431.4 179.8,432.1 180.1,432.7 181.7,433.4 181.8,434.3 183.0,435.4 184.2,435.6 184.8,436.5 185.3,436.9 186.1,437.8 187.4,438.7 188.2,439.3 188.9,439.0 190.5,438.2 191.5,437.6 192.5,437.3 193.4,436.7 194.6,437.9 194.7,438.6 196.0,439.3 196.5,440.1 196.4,441.4 196.5,442.2 196.7,443.7 197.3,444.5 197.0,445.4 196.7,446.7 196.8,447.9 196.2,448.3 196.0,449.7 196.8,450.6 197.4,452.4 197.8,453.3 198.2,454.1 198.6,455.5" fill="none"/>
<polyline points="159.5,472.5 160.5,471.3 161.0,470.9 162.0,470.1 163.1,468.8 163.7,468.4 165.0,467.5 166.2,466.7 167.1,466.6 168.6,465.6 169.5,465.4 170.5,464.5 171.9,464.6 173.0,465.1 173.6,465.0 174.7,465.1 176.1,465.8 177.0,466.0 177.7,465.4 179.2,465.4 179.6,464.4 180.7,464.1 182.0,463.5 182.6,464.2 184.3,464.7 184.8,465.0 186.4,465.9 187.0,466.0 188.2,466.0 188.9,465.8 189.9,465.9 191.0,465.5 192.1,465.8 193.4,465.2 194.0,465.0 195.1,465.4 196.2,464.7 197.5,465.0" fill="none"/>
<polyline points="175.0,487.3 175.8,487.4 177.4,487.6 178.2,488.6 178.9,488.4 180.4,489.1 181.2,489.9 182.5,489.6 183.6,490.6 184.5,490.6 185.8,490.9 187.1,491.5 188.4,491.2 189.4,492.1 191.0,492.3 192.0,492.2 193.0,492.7 193.9,492.4 195.8,492.2 196.9,491.4 197.4,491.3 198.9,490.9 200.1,490.9" fill="none"/>
<polyline points="252.6,483.7 253.4,483.0 254.8,483.2 256.2,482.8 257.4,482.5 258.0,482.0 259.5,481.2 260.6,480.8 261.4,479.6 262.4,478.9 263.4,478.4 263.9,477.9 265.7,477.4 266.2,476.2 266.9,475.4 268.0,475.2 269.2,475.1 270.7,473.9 271.9,473.5 272.9,473.3 274.1,473.0" fill="none"/>
<polyline points="289.8,472.8 289.8,473.9 289.8,475.3 290.3,475.6 289.9,477.3 290.4,478.0 290.1,478.9 290.4,479.9 290.8,481.5 290.5,482.7 290.5,484.2 291.0,485.0 290.5,485.8 290.7,487.7 290.3,488.9 290.3,489.8 290.2,490.9 290.0,491.6 289.4,493.4 289.0,494.0 288.6,495.0 288.4,496.3 288.2,497.0 288.4,498.1" fill="none"/>
<polyline points="292.6,383.0 293.4,384.6 293.5,385.4 293.8,386.7 294.0,388.0 293.9,389.5 294.4,390.5 294.1,391.9 294.2,392.8 293.6,394.1 293.6,395.1 294.1,396.5 293.9,397.2 293.6,398.0 293.4,399.3 293.1,400.2 293.1,401.6 293.0,402.4 292.5,404.2 292.8,405.4 292.4,406.6 292.6,407.5 291.3,408.1 290.6,408.1 289.5,409.1 288.6,410.0 287.1,410.6 286.1,410.7 286.5,411.3 286.7,412.6 286.5,413.7 287.3,414.7 287.6,416.0 287.7,417.2 288.5,418.3 289.5,418.6 290.7,418.8 291.9,419.5 292.6,420.5 293.6,421.2 293.7,422.4 294.6,423.9 295.7,424.5 296.0,425.6" fill="none"/>
<polyline points="294.2,392.8 295.4,392.2 296.7,391.8 297.3,392.1 298.9,392.1 299.6,391.8 300.7,391.2 301.5,391.9 302.9,391.9 304.3,392.1 305.7,392.9 306.3,393.1 307.8,394.0 308.9,394.4 309.7,394.5 310.9,395.6 312.4,395.4 313.7,396.1 313.8,397.5 314.1,398.5 313.9,400.1 313.9,401.3 313.7,402.6 314.9,403.6 315.5,404.0 316.6,404.3 317.6,405.4 318.6,405.8 319.2,406.4 320.0,407.2 321.6,408.6 322.2,409.2 323.0,410.0 324.0,410.6 324.1,411.9 324.6,412.3 325.7,412.9 326.2,414.1" fill="none"/>
<polyline points="290.0,373.5 289.9,374.8 290.1,375.7 290.5,377.2 290.8,378.3 290.7,379.2 291.0,380.2 291.7,380.7 292.0,381.7 292.6,383.0" fill="none"/>
<polyline points="309.7,353.7 310.6,354.3 311.9,355.4 312.3,356.4 313.1,356.9 314.0,358.2 315.1,359.1 315.0,360.0 315.3,361.1 315.9,362.5 316.2,364.1 316.5,365.4 316.9,366.3 317.3,367.3 318.4,368.6 319.2,369.7 320.1,370.8 320.5,371.7 321.3,372.4 322.3,372.1 323.4,372.5 324.6,372.8 325.8,373.5 326.4,374.7 327.9,375.4 328.4,376.1 329.4,377.2 330.7,377.7 331.2,378.8 332.6,378.4 333.2,379.2 334.5,379.0 335.9,378.8 337.6,379.1 338.4,378.8 339.8,378.7 340.7,378.2 341.3,378.0 342.9,377.6 343.7,377.0 345.2,376.6 346.6,377.0 347.5,376.5" fill="none"/>
<polyline points="308.8,427.6 308.4,428.3 307.2,429.0 306.5,430.6 306.0,431.0 305.4,432.0 304.5,433.2 304.0,434.0 303.3,434.9 302.8,436.3 302.0,437.5 302.2,437.9 301.5,438.9 302.2,440.2 302.9,441.0 302.8,442.4 303.6,443.2 304.1,444.1 304.4,444.9 304.3,445.9 305.1,447.2 305.1,448.1 305.4,449.3 305.2,450.3 304.6,451.6 304.8,452.6 304.1,453.9" fill="none"/>
<polyline points="281.9,453.2 283.0,454.3 283.8,454.9 284.5,455.8 284.8,456.6 285.8,457.1 286.9,458.1 287.3,458.8 288.5,459.7 289.8,459.2 290.5,459.0 291.6,458.1 292.7,457.4 293.7,457.1 294.9,457.1 295.9,456.8 296.7,456.5 298.5,455.8 299.0,455.7 300.2,455.8 301.3,455.3 302.1,454.6 303.5,454.0 304.1,453.9 304.8,453.7 306.6,454.2 306.9,453.8 308.2,454.6 309.3,454.5 310.0,454.7 311.1,456.2 312.5,456.8 313.2,457.1 313.5,458.0 313.9,459.4 315.1,460.2 315.7,460.9 315.8,462.3" fill="none"/>
<polygon points="263.6,396.3 264.8,396.4 265.2,397.4 266.3,398.0 267.4,398.9 267.8,398.9 268.6,400.3 269.6,400.7 269.8,402.0 270.4,402.5 271.3,403.5 270.7,404.9 271.3,405.5 270.5,406.5 270.7,407.9 270.6,409.4 270.1,410.1 270.1,411.2 270.6,412.4 270.2,413.5 269.7,414.6 269.6,415.6 269.9,416.6 269.8,417.9 269.6,419.0 269.4,420.0 268.8,421.5 268.3,421.9 268.1,423.0 268.0,424.5 267.6,425.3 267.5,427.0 267.4,427.7 267.4,429.0 268.1,430.0 268.0,431.4 268.5,432.3 269.9,432.4 270.4,433.2 271.9,433.4 272.7,433.5 273.9,434.1 274.8,433.5 276.3,433.9 277.8,434.7 278.7,434.5 279.7,435.4 280.7,435.6 280.7,437.1 280.8,437.5 281.2,438.7 281.3,440.0 281.2,441.2 281.4,442.0 280.6,443.6 280.7,444.5 279.7,444.7 279.0,445.6 278.0,446.4 277.4,446.7 275.9,447.2 275.0,447.3 274.2,448.0 273.0,448.3 271.8,448.5 270.6,448.5 269.4,447.9 268.5,447.8 267.5,447.1 266.6,446.4 266.3,445.6 265.4,445.1 263.8,445.1 263.0,445.0 262.0,444.9 260.9,445.0 259.7,445.6 258.8,445.7 257.8,446.3 256.6,446.0 255.2,446.7 254.2,446.7 253.0,446.8 251.6,447.0 250.8,446.7 250.0,446.9 249.0,446.6 247.1,447.1 246.4,446.7 245.3,446.1 245.2,445.7 244.1,445.2 243.1,444.5 242.9,443.4 242.9,442.6 242.4,441.4 242.5,440.0 242.2,438.7 242.2,438.1 242.1,436.8 242.0,435.6 242.0,434.3 241.3,433.3 241.2,432.4 240.9,431.2 240.8,429.9 239.9,428.8 240.4,427.4 239.7,426.7 239.9,425.6 239.8,424.3 239.0,423.6 239.2,422.3 239.2,421.3 240.0,420.4 240.9,419.2 240.9,417.9 241.8,417.7 242.6,416.6 243.0,415.9 244.2,415.7 244.9,415.4 246.1,415.0 247.7,415.7 248.6,415.1 249.9,414.7 250.4,413.8 251.2,413.9 252.5,412.9 253.5,412.4 253.9,410.8 255.2,410.1 256.1,409.7 257.2,409.3 257.8,408.4 258.6,407.9 259.4,407.0 260.1,406.5 260.5,405.1 261.3,404.6 261.6,403.8 262.3,402.8 262.2,401.0 262.4,400.2 262.8,399.0 263.1,398.4 263.2,397.6" fill="#E8682E" stroke="#a45436" stroke-width="1"/>
</g></svg>

<!--/MAP-->
<div id="tbl">
<div class="th" style="left:407px;width:139px">URS</div><div class="th" style="left:546px;width:93px">Confirmados</div>
<div class="hl" style="top:259.31px"></div>
<div class="hl" style="top:273.77px"></div>
<div class="hl" style="top:288.23px"></div>
<div class="hl" style="top:302.69px"></div>
<div class="hl" style="top:317.15px"></div>
<div class="hl" style="top:331.61px"></div>
<div class="hl" style="top:346.07px"></div>
<div class="hl" style="top:360.53px"></div>
<div class="hl" style="top:374.99px"></div>
<div class="hl" style="top:389.45px"></div>
<div class="hl" style="top:403.91px"></div>
<div class="hl" style="top:418.37px"></div>
<div class="hl" style="top:432.83px"></div>
<div class="hl" style="top:447.29px"></div>
<div class="hl" style="top:461.75px"></div>
<div class="hl" style="top:476.21px"></div>
<div class="td n" style="top:245.60px">ALFENAS</div><div class="td v" style="top:245.60px">1</div>
<div class="td n" style="top:260.06px">BARBACENA</div><div class="td v" style="top:260.06px">1</div>
<div class="td n" style="top:274.52px">BELO HORIZONTE</div><div class="td v" style="top:274.52px">264</div>
<div class="td n" style="top:288.98px">CORONEL FABRICIANO</div><div class="td v" style="top:288.98px">2</div>
<div class="td n" style="top:303.44px">DIVINÓPOLIS</div><div class="td v" style="top:303.44px">3</div>
<div class="td n" style="top:317.90px">GOVERNADOR VALADARES</div><div class="td v" style="top:317.90px">7</div>
<div class="td n" style="top:332.36px">ITABIRA</div><div class="td v" style="top:332.36px">1</div>
<div class="td n" style="top:346.82px">JUIZ DE FORA</div><div class="td v" style="top:346.82px">8</div>
<div class="td n" style="top:361.28px">LEOPOLDINA</div><div class="td v" style="top:361.28px">1</div>
<div class="td n" style="top:375.74px">MONTES CLAROS</div><div class="td v" style="top:375.74px">5</div>
<div class="td n" style="top:390.20px">PASSOS</div><div class="td v" style="top:390.20px">1</div>
<div class="td n" style="top:404.66px">POUSO ALEGRE</div><div class="td v" style="top:404.66px">10</div>
<div class="td n" style="top:419.12px">SETE LAGOAS</div><div class="td v" style="top:419.12px">4</div>
<div class="td n" style="top:433.58px">TEÓFILO OTONI</div><div class="td v" style="top:433.58px">2</div>
<div class="td n" style="top:448.04px">UBERABA</div><div class="td v" style="top:448.04px">5</div>
<div class="td n" style="top:462.50px">UBERLÂNDIA</div><div class="td v" style="top:462.50px">33</div>
<div class="td n b" style="top:476.96px">Total</div><div class="td v b" style="top:476.96px">348</div>
</div>
<div id="tframe"></div><div id="tdiv"></div><div id="thb"></div><div style="position:absolute;left:545px;top:217px;width:1.6px;height:28px;background:#5a3424"></div><div style="position:absolute;left:406px;top:217px;width:1.5px;height:28px;background:#5a3424"></div><div style="position:absolute;left:638.5px;top:217px;width:1.5px;height:28px;background:#5a3424"></div><div id="ttb"></div>

<div class="num" style="left:778px;top:210px">2.173</div><div class="lab" style="left:863px;top:214px;letter-spacing:0.11px">NOTIFICAÇÕES</div>
<div class="num" style="left:786px;top:310px">351</div><div class="lab" style="left:863px;top:314px;letter-spacing:0.3px">CASOS CONFIRMADOS</div>
<div class="num" style="left:779px;top:410px;letter-spacing:-0.6px">1.034</div><div class="lab" style="left:863px;top:415px;letter-spacing:0.2px">CASOS EM INVESTIGAÇÃO</div>
<div class="num" style="left:788px;top:507px">788</div><div class="lab" style="left:863px;top:514px;letter-spacing:-0.05px">CASOS DESCARTADOS</div>
<div id="obs">Obs.: Foram confirmados <b>3</b> casos de <i>Monkeypox</i>, notificados por<br>Minas Gerais, de residentes no exterior.</div>
<div id="foot">Fonte: RedCap/CIEVS/SubVS/SES-MG. Dados parciais, sujeitos a alterações. Atualização realizada às 11 horas e em conformidade com a Lei Geral de Proteção de Dados Pessoais (LGPD).</div>
<svg id="icons" width="1024" height="614" viewBox="0 0 1024 614" fill="none" stroke="#222" stroke-linecap="round" stroke-linejoin="round">
 <!-- clipboard -->
 <rect x="708.5" y="198.5" width="29" height="39" rx="2.5" stroke-width="2"/>
 <rect x="711.5" y="201" width="23" height="33" rx="0.5" stroke-width="1.2"/>
 <path d="M716 203.5 v-4 q0-2 2-2 h2.5 q0.5-4 3-4 q2.5 0 3 4 h2.5 q2 0 2 2 v4 z" fill="#fff" stroke-width="1.6"/>
 <path d="M714 207.5 l1.3 1.3 l2.5-2.6 M714 212.3 l1.3 1.3 l2.5-2.6" stroke-width="1.2"/>
 <path d="M721 208 h10.5 M721 212.6 h3 M726 212.6 h5.5 M721 218.4 h10.5 M721 223.4 h10.5 M721 228.5 h10.5" stroke-width="1.3"/>
 <circle cx="715.6" cy="218.4" r="1.3" fill="#222" stroke="none"/>
 <circle cx="715.6" cy="223.4" r="1.3" fill="#222" stroke="none"/>
 <circle cx="715.6" cy="228.5" r="1.3" fill="#222" stroke="none"/>
 <!-- check circle -->
 <circle cx="724" cy="313.7" r="18.9" stroke="#161616" stroke-width="2.5"/>
 <path d="M714.3 314.3 L721 320.3 L733.2 308.5" stroke="#161616" stroke-width="2.5"/>
 <!-- magnifier -->
 <circle cx="733.9" cy="409.3" r="16" stroke-width="2"/>
 <circle cx="733.9" cy="409.3" r="12.6" stroke-width="1.8"/>
 <path d="M738.6 402.4 A9.4 9.4 0 0 1 741.4 416" stroke-width="1.6"/>
 <circle cx="735" cy="400.6" r="0.9" fill="#222" stroke-width="1"/>
 <path d="M721.8 421.4 L718 425.4" stroke-width="4.2"/>
 <path d="M721.8 421.4 L718 425.4" stroke="#fff" stroke-width="1.2"/>
 <g transform="translate(716.8 426.3) rotate(131.8)"><rect x="-1" y="-3.8" width="21" height="7.6" rx="3.8" fill="#fff" stroke-width="1.8"/><path d="M2.5 -3.6 v7.2" stroke-width="1.4"/></g>
 <!-- x circle -->
 <circle cx="723.4" cy="515.3" r="18.6" stroke="#161616" stroke-width="2.4"/>
 <path d="M715.6 507.6 L731 523 M731 507.6 L715.6 523" stroke="#161616" stroke-width="2.2"/>
</svg>
</body>
</html>
